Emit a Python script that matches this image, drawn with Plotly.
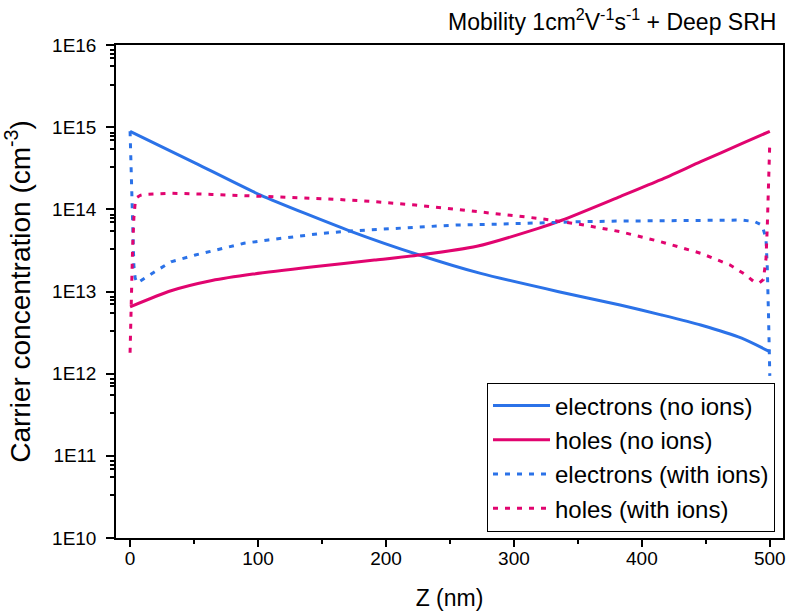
import plotly.graph_objects as go

# ---------------- data ----------------
z_e_noion = [0, 51, 102, 172, 226, 274, 335, 383, 415, 446, 478, 500]
n_e_noion = [8.9e14, 3.66e14, 1.49e14, 5.44e13, 2.78e13, 1.66e13, 9.95e12, 6.85e12,
             5.2e12, 3.91e12, 2.7e12, 1.85e12]

z_h_noion = [0, 32, 64, 96, 143.5, 191, 226, 271, 319, 338, 383, 414.5, 446, 478, 500]
p_h_noion = [6.5e12, 1.02e13, 1.36e13, 1.63e13, 2.0e13, 2.41e13, 2.78e13, 3.55e13,
             5.87e13, 7.41e13, 1.43e14, 2.28e14, 3.8e14, 6.3e14, 8.9e14]

z_e_ion = [0, 0.5, 1, 1.5, 2, 2.5, 3, 4, 5.5, 19, 32, 51, 70, 89, 108, 128, 150, 172,
           198, 223, 255, 287, 319, 351, 383, 414, 446, 478, 488, 494, 497, 498, 499, 500]
n_e_ion = [8.9e14, 5e14, 2.5e14, 1.2e14, 6e13, 3.2e13, 2e13, 1.45e13, 1.27e13, 1.73e13,
           2.3e13, 2.78e13, 3.29e13, 3.86e13, 4.24e13, 4.65e13, 5.1e13, 5.45e13, 5.76e13,
           6.15e13, 6.45e13, 6.6e13, 6.87e13, 7.07e13, 7.2e13, 7.27e13, 7.35e13, 7.4e13,
           7.1e13, 6.4e13, 4.4e13, 2e13, 5e12, 9.4e11]

z_h_ion = [0, 0.5, 1, 2, 3, 4, 5, 8, 11, 32, 64, 96, 128, 159, 191, 223, 255, 287, 319,
           351, 383, 414.5, 446, 469, 481, 488, 492, 495, 497, 498, 499, 500]
p_h_ion = [1.8e12, 4e12, 1e13, 3.5e13, 8e13, 1.2e14, 1.38e14, 1.48e14, 1.52e14, 1.57e14,
           1.52e14, 1.45e14, 1.4e14, 1.33e14, 1.24e14, 1.13e14, 1.0e14, 8.9e13, 7.76e13,
           6.6e13, 5.35e13, 4.04e13, 2.92e13, 2.1e13, 1.6e13, 1.3e13, 1.28e13, 1.4e13,
           2.5e13, 6e13, 2e14, 6.8e14]

series_names = ["electrons (no ions)", "holes (no ions)",
                "electrons (with ions)", "holes (with ions)"]

y_tick_vals = [1e10, 1e11, 1e12, 1e13, 1e14, 1e15, 1e16]
y_tick_text = ["1E10", "1E11", "1E12", "1E13", "1E14", "1E15", "1E16"]
x_tick_vals = [0, 100, 200, 300, 400, 500]
x_minor_vals = [50, 150, 250, 350, 450]

title_text = "Mobility 1cm<sup>2</sup>V<sup>-1</sup>s<sup>-1</sup> + Deep SRH"
x_title = "Z (nm)"
y_title = "Carrier concentration (cm<sup>-3</sup>)"

# ---------------- style ----------------
BLUE = "#2b72e8"
PINK = "#e1046f"
FONT = "Liberation Sans, Arial, sans-serif"
DOT = "5px,7px"

minor_y = []
for dec in range(10, 16):
    for m in (3.3, 5.5, 7.0, 7.8, 8.6):
        minor_y.append(m * 10 ** dec)

fig = go.Figure()
fig.add_trace(go.Scatter(x=z_e_noion, y=n_e_noion, name=series_names[0], mode="lines",
                         line=dict(color=BLUE, width=3, shape="spline", smoothing=0.6)))
fig.add_trace(go.Scatter(x=z_h_noion, y=p_h_noion, name=series_names[1], mode="lines",
                         line=dict(color=PINK, width=3, shape="spline", smoothing=0.6)))
fig.add_trace(go.Scatter(x=z_e_ion, y=n_e_ion, name=series_names[2], mode="lines",
                         line=dict(color=BLUE, width=3, dash=DOT)))
fig.add_trace(go.Scatter(x=z_h_ion, y=p_h_ion, name=series_names[3], mode="lines",
                         line=dict(color=PINK, width=3, dash=DOT)))

fig.update_layout(
    width=788, height=611,
    margin=dict(l=116, r=5, t=45, b=73, autoexpand=False),
    paper_bgcolor="white", plot_bgcolor="white",
    font=dict(family=FONT, color="black"),
    showlegend=True,
    legend=dict(x=0.988, xanchor="right", y=0.1643, yanchor="middle",
                bordercolor="black", borderwidth=1, bgcolor="white",
                font=dict(size=24, family=FONT), itemwidth=57,
                tracegroupgap=0),
    xaxis=dict(range=[-11, 510.3], showgrid=False, zeroline=False,
               showline=True, linecolor="black", linewidth=1.5, mirror=True,
               ticks="outside", ticklen=7, tickwidth=1.5, tickcolor="black",
               tickmode="array", tickvals=x_tick_vals,
               tickfont=dict(size=19, family=FONT), ticklabelstandoff=-5,
               minor=dict(ticks="outside", ticklen=4, tickwidth=1.5, tickcolor="black",
                          tickvals=x_minor_vals),
               title=dict(text=x_title, font=dict(size=23, family=FONT), standoff=22)),
    yaxis=dict(type="log", range=[10, 16], showgrid=False, zeroline=False,
               showline=True, linecolor="black", linewidth=1.5, mirror=True,
               ticks="outside", ticklen=8, tickwidth=1.5, tickcolor="black",
               tickmode="array", tickvals=y_tick_vals, ticktext=y_tick_text,
               tickfont=dict(size=19, family=FONT), ticklabelstandoff=6,
               minor=dict(ticks="outside", ticklen=4, tickwidth=1.5, tickcolor="black",
                          tickvals=minor_y),
               title=dict(text=y_title, font=dict(size=28, family=FONT), standoff=14)),
    annotations=[dict(text=title_text, xref="paper", yref="paper",
                      x=0.9925, y=1.05, xanchor="right", yanchor="middle",
                      showarrow=False, font=dict(size=23, family=FONT))],
)

fig.write_html("out.html", config={"displayModeBar": False},
               post_script="document.body.style.margin='0px';")
